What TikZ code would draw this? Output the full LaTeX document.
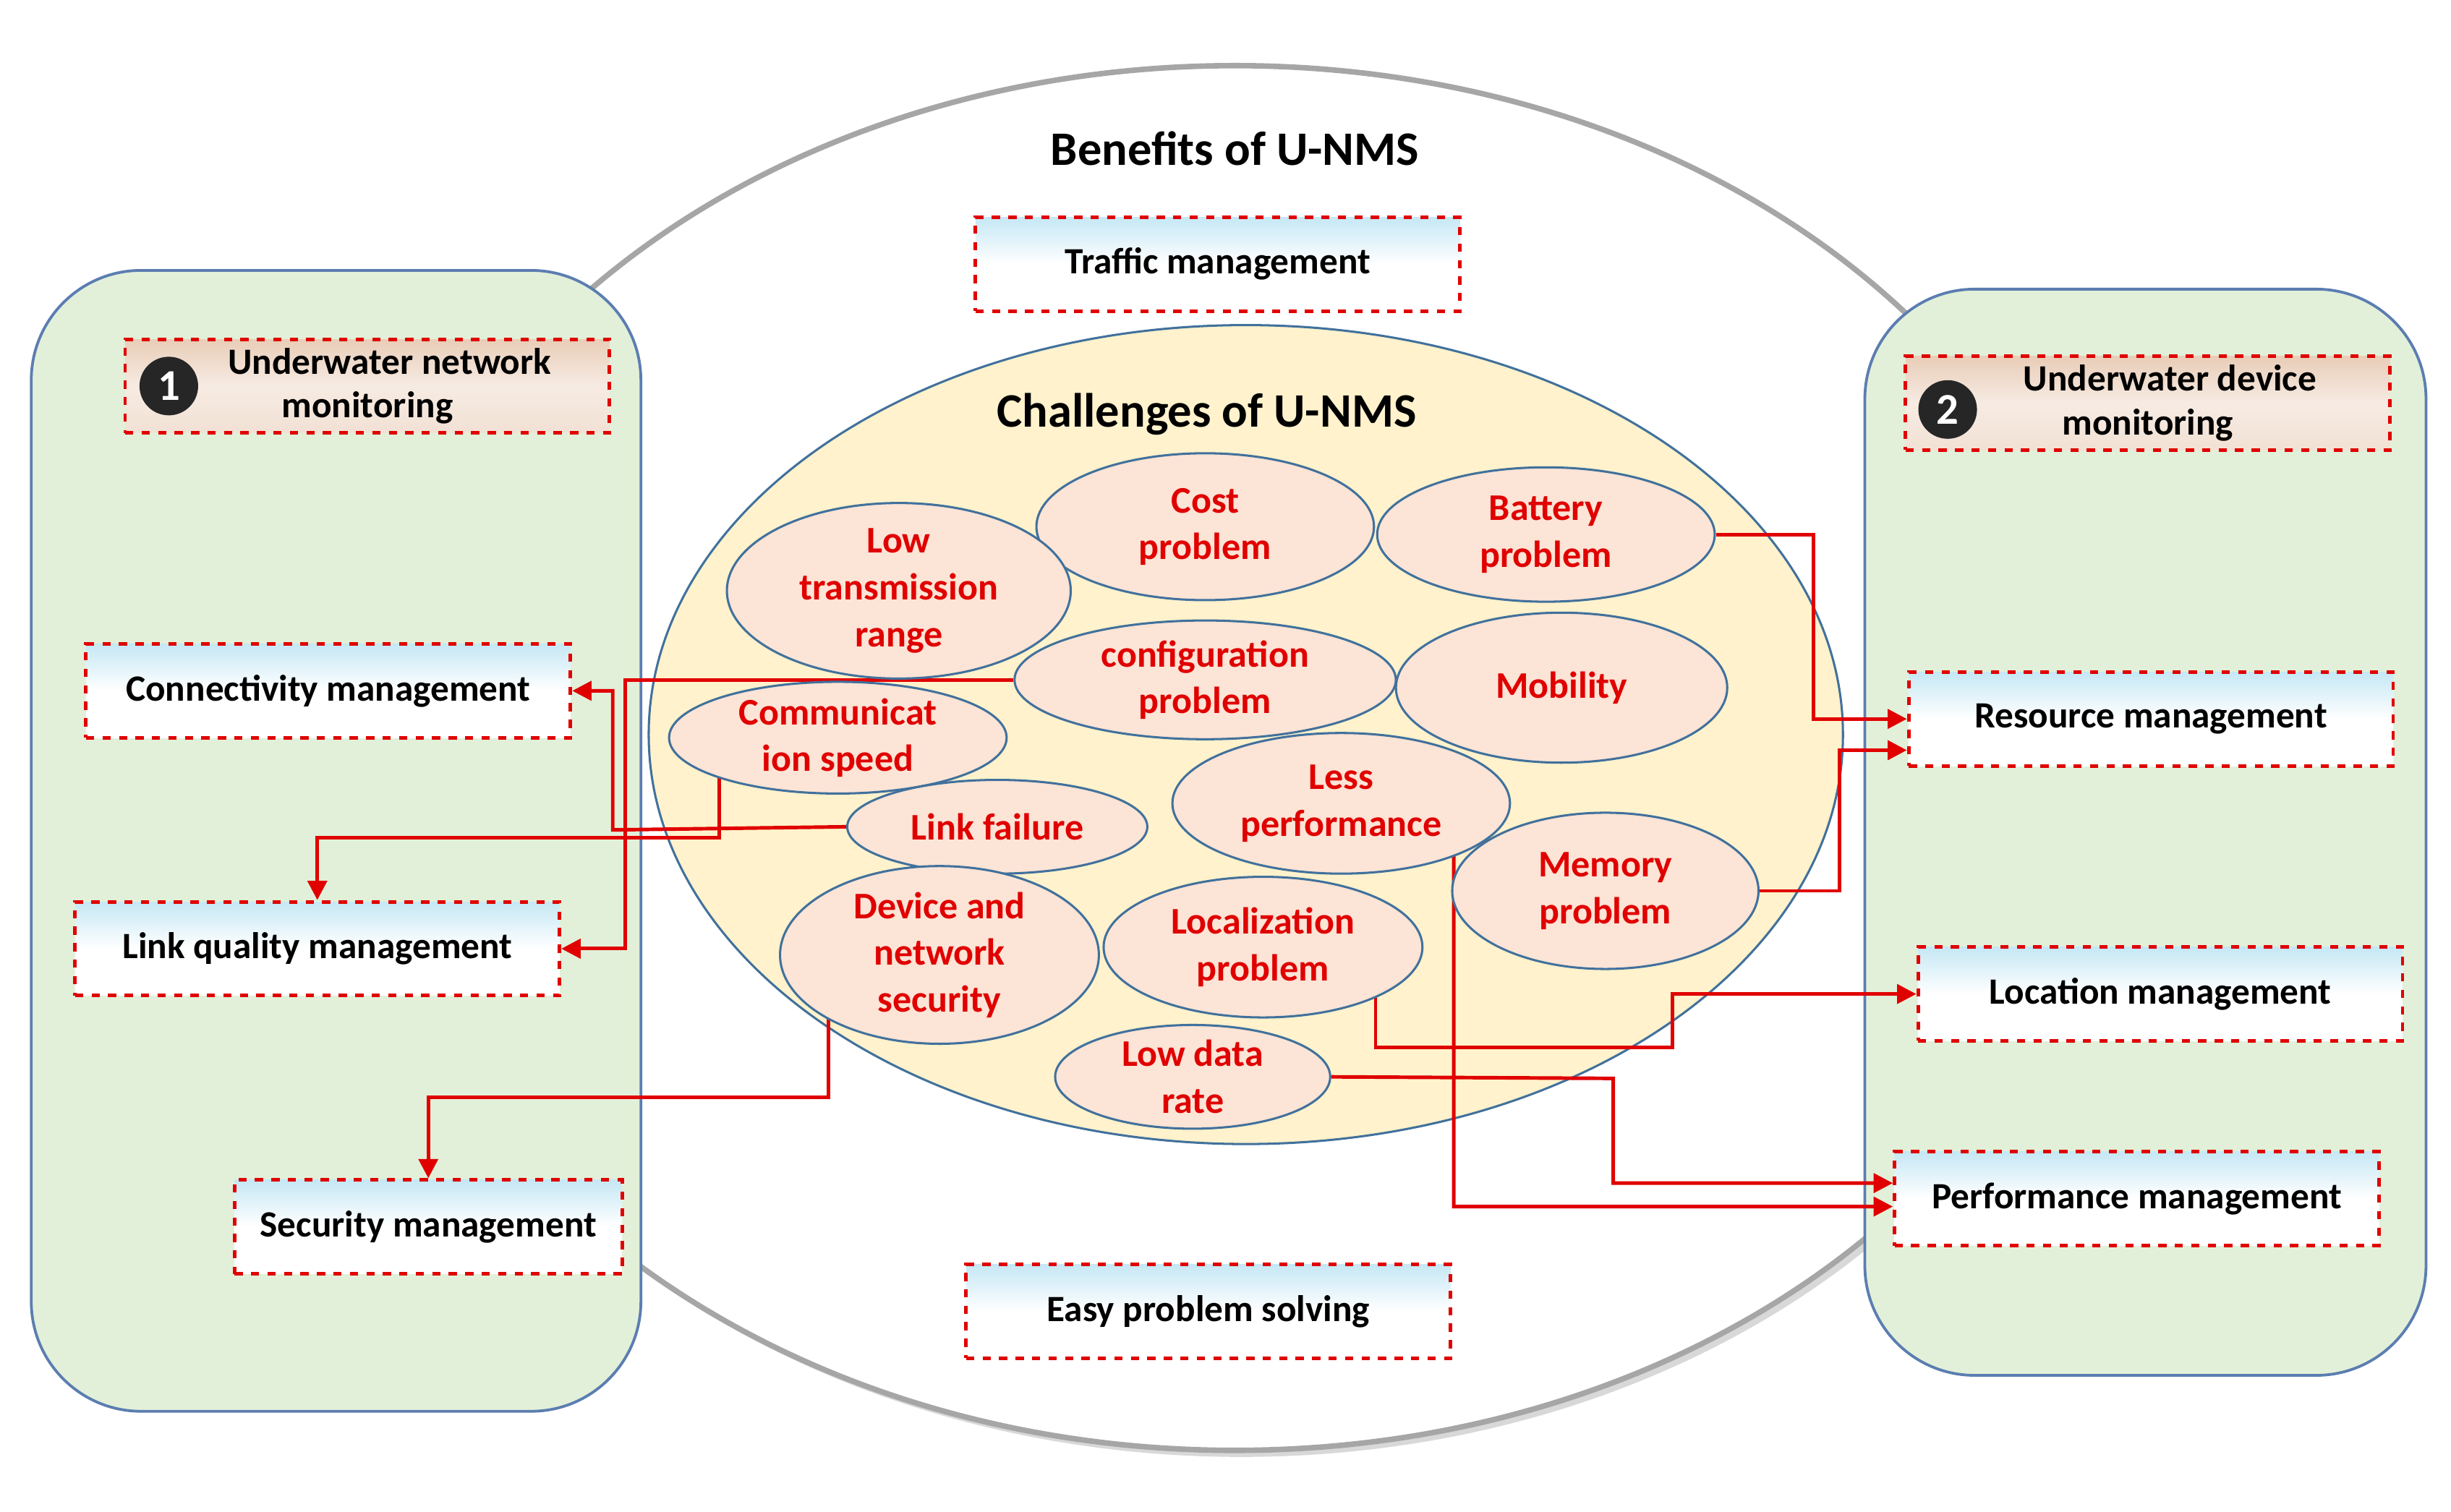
\documentclass[tikz,border=0pt]{standalone}
\usepackage{fontspec}
\setmainfont{Carlito}
\usetikzlibrary{shapes.geometric,arrows.meta,shadows}
\pgfdeclarelayer{bg}
\pgfdeclarelayer{lines}
\pgfsetlayers{bg,lines,main}
\definecolor{pgreen}{HTML}{E2F0D9}
\definecolor{pborder}{HTML}{5B7DB1}
\definecolor{cyel}{HTML}{FFF2CC}
\definecolor{cpink}{HTML}{FCE4D6}
\definecolor{cblue}{HTML}{41719C}
\definecolor{rred}{HTML}{E00000}
\definecolor{skyb}{HTML}{9FD8EE}
\definecolor{brwn}{HTML}{E9CDB8}
\tikzset{
 panel/.style={draw=pborder,line width=1pt,fill=pgreen,rounded corners=40pt},
 box/.style={draw=rred,dashed,line width=1.3pt,minimum width=6.2cm,minimum height=1.2cm,
   top color=skyb!60!white,bottom color=white,middle color=white,shading angle=0,
   font=\bfseries\fontsize{13.5}{16}\selectfont,align=center,inner sep=2pt},
 hbox/.style={box,top color=brwn,bottom color=brwn!60!white,middle color=brwn!40!white},
 ch/.style={ellipse,draw=cblue,line width=0.8pt,fill=cpink,text=rred,align=center,
   font=\bfseries\fontsize{13.7}{17}\selectfont,inner sep=0pt},
 con/.style={draw=rred,line width=1.3pt},
 arr/.style={con,-{Triangle[length=7pt,width=7pt]}},
 ttl/.style={font=\bfseries\fontsize{17.5}{20}\selectfont},
 num/.style={circle,fill=black!85,text=white,inner sep=1pt,minimum size=0.75cm,font=\bfseries\fontsize{16}{16}\selectfont}
}
\begin{document}
\begin{tikzpicture}[x=0.02cm,y=-0.02cm]
\useasboundingbox (0,0) rectangle (1568,967);
\begin{pgfonlayer}{bg}
\fill[white] (0,0) rectangle (1568,967);
\draw[gray!70,line width=2pt,fill=white,drop shadow={opacity=0.3}] (790,485) ellipse [x radius=560,y radius=443];
\draw[panel] (20,173) rectangle (410,903);
\draw[panel] (1193,185) rectangle (1552,880);
\draw[cblue,line width=0.8pt,fill=cyel] (797,470) ellipse [x radius=382,y radius=262];
\end{pgfonlayer}
\node[ttl] (ben) at (790,95) {Benefits of U-NMS};
\node[ttl] (chal) at (772,265) {Challenges of U-NMS};
% boxes
\node[box] (traffic) at (779,169) {Traffic management};
\node[box] (easy) at (773,839) {Easy problem solving};
\node[hbox] (unm) at (235,247) {\hspace{1.2em}Underwater network\\monitoring};
\node[hbox] (udm) at (1374,258) {\hspace{1.2em}Underwater device\\monitoring};
\node[num] (n1) at (108,247) {1};
\node[num] (n2) at (1246,262) {2};
\node[box] (conn) at (210,442) {Connectivity management};
\node[box] (linkq) at (203,607) {Link quality management};
\node[box,minimum width=4.96cm] (sec) at (274,785) {Security management};
\node[box] (res) at (1376,460) {Resource management};
\node[box] (loc) at (1382,636) {Location management};
\node[box] (perf) at (1367,767) {Performance management};
% challenge ellipses
\node[ch,minimum width=4.32cm,minimum height=1.88cm] (cost) at (771,337) {Cost\\problem};
\node[ch,minimum width=4.32cm,minimum height=1.72cm] (batt) at (989,342) {Battery\\problem};
\node[ch,minimum width=4.4cm,minimum height=1.8cm] (lowt) at (575,378) {Low\\transmission\\range};
\node[ch,minimum width=4.88cm,minimum height=1.52cm] (conf) at (771,435) {configuration\\problem};
\node[ch,minimum width=4.24cm,minimum height=1.92cm] (mob) at (999,440) {Mobility};
\node[ch,minimum width=4.32cm,minimum height=1.2cm] (comm) at (536,472) {Communicat\\ion speed};
\node[ch,minimum width=4.32cm,minimum height=1.8cm] (less) at (858,514) {Less\\performance};
\node[ch,minimum width=3.84cm,minimum height=1.2cm] (linkf) at (638,529) {Link failure};
\node[ch,minimum width=3.92cm,minimum height=2.0cm] (mem) at (1027,570) {Memory\\problem};
\node[ch,minimum width=4.08cm,minimum height=2.0cm] (dev) at (601,611) {Device and\\network\\security};
\node[ch,minimum width=4.08cm,minimum height=1.8cm] (locp) at (808,606) {Localization\\problem};
\node[ch,minimum width=3.52cm,minimum height=1.32cm] (lowd) at (763,689) {Low data\\rate};
% connectors (behind the ellipses)
\begin{pgfonlayer}{lines}
\draw[arr] (batt.east) -- (1160,342) |- (res.west);
\draw[arr] (mem.east) -- (1177,570) |- ([yshift=-0.4cm]res.west);
\draw[arr] (conf.west) -- (400,435) |- (linkq.east);
\draw[arr] (linkf.west) -- (392,531) |- (conn.east);
\draw[arr] (comm.center -| 460,0) -- (460,536) -- (203,536) -- (linkq.north);
\draw[arr] (locp.center -| 880,0) -- (880,670) -- (1070,670) |- (loc.west);
\draw[arr] (lowd.east) -- (1032,690) |- ([yshift=0.2cm]perf.west);
\draw[arr] (less.center -| 930,0) -- (930,772) -- ([yshift=-0.1cm]perf.west);
\draw[arr] (dev.center -| 530,0) -- (530,702) -- (274,702) -- (sec.north);
\end{pgfonlayer}
\end{tikzpicture}
\end{document}
